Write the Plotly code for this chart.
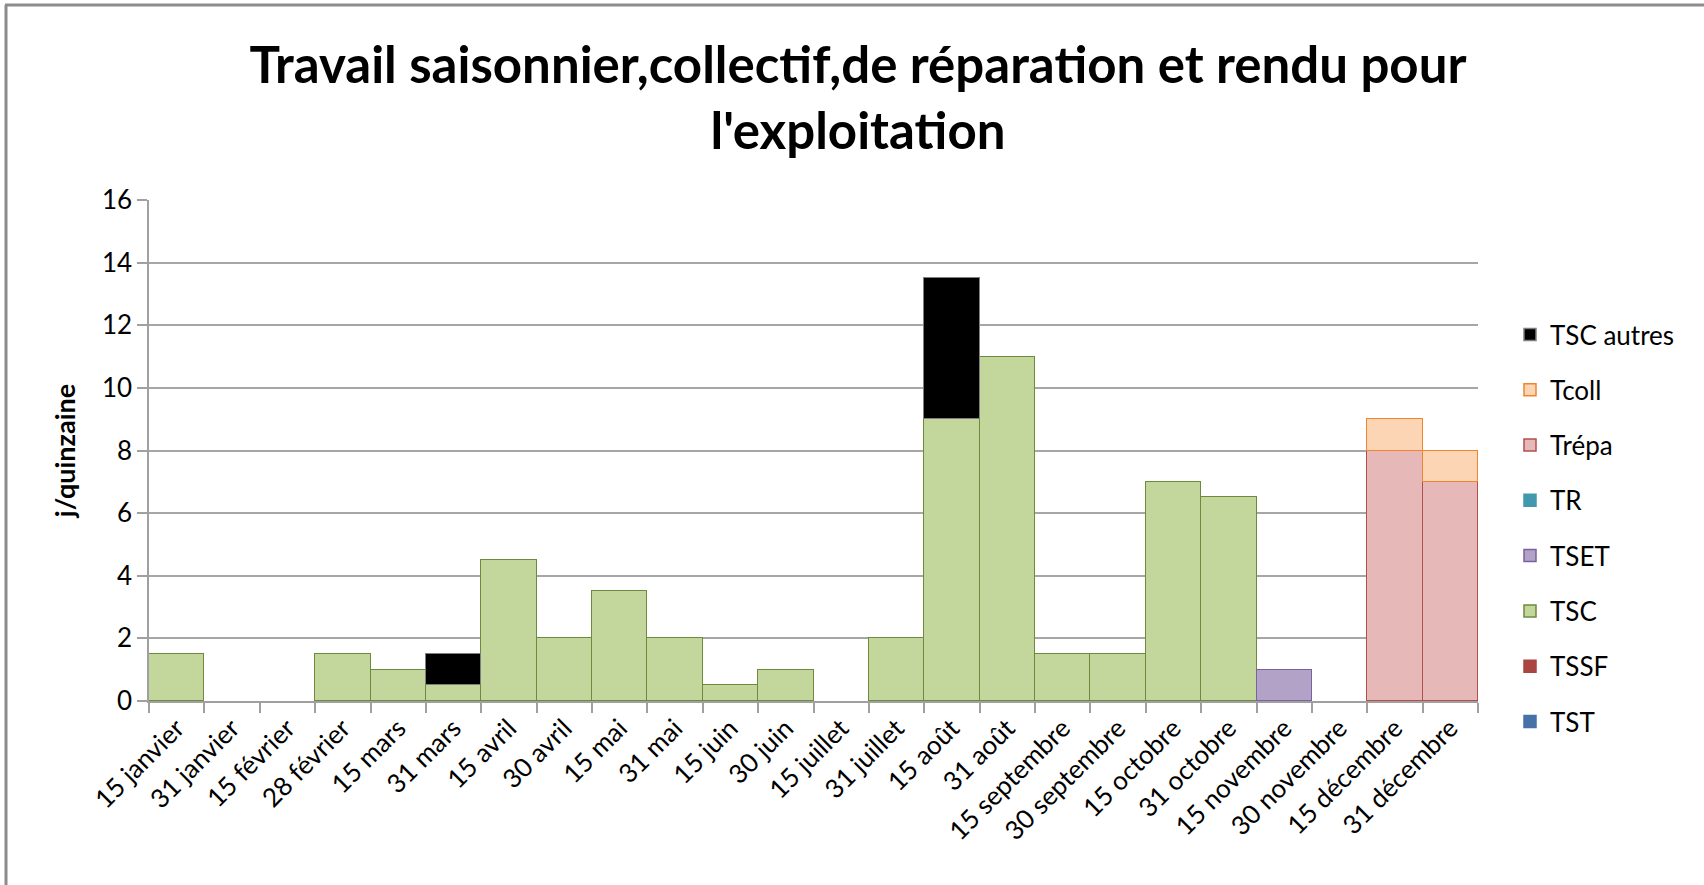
import plotly.graph_objects as go

categories = ["15 janvier", "31 janvier", "15 février", "28 février", "15 mars", "31 mars",
              "15 avril", "30 avril", "15 mai", "31 mai", "15 juin", "30 juin",
              "15 juillet", "31 juillet", "15 août", "31 août", "15 septembre", "30 septembre",
              "15 octobre", "31 octobre", "15 novembre", "30 novembre", "15 décembre", "31 décembre"]

TST = [0] * 24
TSSF = [0] * 24
TSC = [1.5, 0, 0, 1.5, 1, 0.5, 4.5, 2, 3.5, 2, 0.5, 1, 0, 2, 9, 11, 1.5, 1.5, 7, 6.5, 0, 0, 0, 0]
TSET = [0, 0, 0, 0, 0, 0, 0, 0, 0, 0, 0, 0, 0, 0, 0, 0, 0, 0, 0, 0, 1, 0, 0, 0]
TR = [0] * 24
Trepa = [0, 0, 0, 0, 0, 0, 0, 0, 0, 0, 0, 0, 0, 0, 0, 0, 0, 0, 0, 0, 0, 0, 8, 7]
Tcoll = [0, 0, 0, 0, 0, 0, 0, 0, 0, 0, 0, 0, 0, 0, 0, 0, 0, 0, 0, 0, 0, 0, 1, 1]
TSC_autres = [0, 0, 0, 0, 0, 1, 0, 0, 0, 0, 0, 0, 0, 0, 4.5, 0, 0, 0, 0, 0, 0, 0, 0, 0]

series = [
    ("TST", TST, "#4672A8", "#4672A8"),
    ("TSSF", TSSF, "#AB4542", "#AB4542"),
    ("TSC", TSC, "#C3D69B", "#6E8B3D"),
    ("TSET", TSET, "#B3A2C7", "#7A62A0"),
    ("TR", TR, "#4198AF", "#4198AF"),
    ("Trépa", Trepa, "#E6B9B8", "#B0504D"),
    ("Tcoll", Tcoll, "#FCD5B5", "#F0852E"),
    ("TSC autres", TSC_autres, "#000000", "#7F7F7F"),
]

FONT = "Lato"
fig = go.Figure()
n = len(series)
for i, (name, vals, fill, line) in enumerate(series):
    # zero-height segments are left out so they do not draw an outline on the axis
    shown = [v if v != 0 else None for v in vals]
    fig.add_trace(go.Bar(
        x=categories, y=shown, name=name, legendgroup=name, legendrank=n - i,
        marker=dict(color=fill, line=dict(color=line, width=1.5)),
    ))

W, H = 1704, 885
L, R, T, B = 149, 1478, 200, 701
pw, ph = R - L, B - T

def px_x(x):
    return (x - L) / pw

def px_y(y):
    return 1 - (y - T) / ph

fig.update_layout(
    width=W, height=H,
    margin=dict(l=L, r=W - R, t=T, b=H - B),
    barmode="stack", bargap=0,
    plot_bgcolor="white", paper_bgcolor="white",
    font=dict(family=FONT, color="#000000", size=26),
    title=dict(
        text="<b>Travail saisonnier,collectif,de réparation et rendu pour<br>l'exploitation</b>",
        x=858 / W, xanchor="center", y=1 - 83 / H, yanchor="middle",
        font=dict(family=FONT, size=51, color="#000000"),
    ),
    legend=dict(
        x=px_x(1510), xanchor="left", y=px_y(311), yanchor="top",
        traceorder="grouped", tracegroupgap=18.5,
        font=dict(family=FONT, size=26), bgcolor="rgba(0,0,0,0)",
    ),
    xaxis=dict(
        type="category", tickangle=-45, showgrid=False,
        showline=True, linecolor="#A0A0A0", linewidth=1.5,
        ticks="outside", tickson="boundaries", ticklen=10, tickcolor="#A0A0A0", tickwidth=1.5,
        tickfont=dict(family=FONT, size=26), range=[-0.5, 23.5],
    ),
    yaxis=dict(
        range=[0, 16], dtick=2, showgrid=True, gridcolor="#A6A6A6", gridwidth=1.5,
        showline=True, linecolor="#A0A0A0", linewidth=1.5,
        ticks="outside", ticklen=10, tickcolor="#A0A0A0", tickwidth=1.5,
        tickfont=dict(family=FONT, size=26), zeroline=False,
        title=dict(text="<b>j/quinzaine</b>", font=dict(family=FONT, size=27), standoff=18),
    ),
    shapes=[
        dict(type="line", xref="paper", yref="paper", x0=px_x(6), x1=px_x(6),
             y0=px_y(900), y1=px_y(5), line=dict(color="#8C8C8C", width=3)),
        dict(type="line", xref="paper", yref="paper", x0=px_x(5), x1=px_x(1720),
             y0=px_y(5), y1=px_y(5), line=dict(color="#8C8C8C", width=3)),
    ],
)

fig.write_html("out.html", config={"displayModeBar": False},
               post_script="document.body.style.margin='0';")
